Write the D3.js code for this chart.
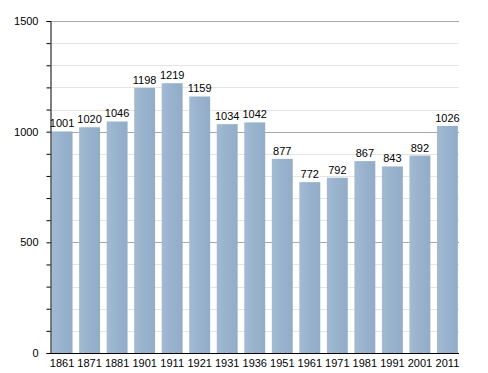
<!DOCTYPE html>
<html>
<head>
<meta charset="utf-8">
<script src="https://cdn.jsdelivr.net/npm/d3@7"></script>
<style>
  body { margin: 0; background: #fff; }
  text { font-family: "Liberation Sans", Arial, sans-serif; font-size: 11px; fill: #000; }
</style>
</head>
<body>
<div id="chart"></div>
<script>
// population by census year
const years = ["1861", "1871", "1881", "1901", "1911", "1921", "1931", "1936", "1951", "1961", "1971", "1981", "1991", "2001", "2011"];
const population = [1001, 1020, 1046, 1198, 1219, 1159, 1034, 1042, 877, 772, 792, 867, 843, 892, 1026];
const yTicks = [0, 500, 1000, 1500];

const width = 488, height = 373;
const x0 = 50.5, x1 = 459, yBottom = 353, yTop = 21;

const svg = d3.select("#chart")
    .append("svg")
    .attr("width", width)
    .attr("height", height);

// gradient for bars
const grad = svg.append("defs").append("linearGradient")
    .attr("id", "barGrad")
    .attr("x1", "0%").attr("x2", "100%");
grad.append("stop").attr("offset", "0%").attr("stop-color", "#a3bad2");
grad.append("stop").attr("offset", "50%").attr("stop-color", "#98b2cd");
grad.append("stop").attr("offset", "100%").attr("stop-color", "#93adc8");

const xScale = d3.scaleBand()
    .domain(years)
    .range([x0, x1])
    .paddingInner(0.24)
    .paddingOuter(0.04);

const yScale = d3.scaleLinear()
    .domain([0, 1500])
    .range([yBottom, yTop]);

// grid lines every 100, darker every 500
const gridVals = d3.range(100, 1501, 100);
svg.append("g")
    .selectAll("line")
    .data(gridVals)
    .join("line")
        .attr("x1", x0)
        .attr("x2", x1)
        .attr("y1", d => Math.round(yScale(d)) + 0.5)
        .attr("y2", d => Math.round(yScale(d)) + 0.5)
        .attr("stroke", d => d % 500 === 0 ? "#a8a8a8" : "#e4e4e4")
        .attr("stroke-width", 1);

// bars
svg.append("g")
    .selectAll("rect")
    .data(population)
    .join("rect")
        .attr("x", (d, i) => xScale(years[i]))
        .attr("y", d => yScale(d))
        .attr("width", xScale.bandwidth())
        .attr("height", d => yBottom - yScale(d))
        .attr("fill", "url(#barGrad)");

// value labels
svg.append("g")
    .selectAll("text")
    .data(population)
    .join("text")
        .attr("x", (d, i) => xScale(years[i]) + xScale.bandwidth() / 2)
        .attr("y", d => yScale(d) - 4)
        .attr("text-anchor", "middle")
        .text(d => d);

// left axis with minor ticks
const leftAxis = d3.axisLeft(yScale)
    .tickValues(d3.range(0, 1501, 100))
    .tickSize(4)
    .tickFormat(d => yTicks.includes(d) ? d : "");

const yAxis = svg.append("g")
    .attr("transform", `translate(${x0},0)`)
    .call(leftAxis);
yAxis.select(".domain").attr("stroke", "#000");
yAxis.selectAll("text").attr("x", -12).style("font-size", "11px").style("font-family", "Liberation Sans, Arial, sans-serif");

// bottom axis
const bottomAxis = d3.axisBottom(xScale).tickSize(0).tickPadding(6);
const xAxis = svg.append("g")
    .attr("transform", `translate(0,${yBottom})`)
    .call(bottomAxis);
xAxis.select(".domain").attr("stroke", "#000").attr("d", `M${x0},0.5H${x1}`);
xAxis.selectAll("text").style("font-size", "11px").style("font-family", "Liberation Sans, Arial, sans-serif");
</script>
</body>
</html>
